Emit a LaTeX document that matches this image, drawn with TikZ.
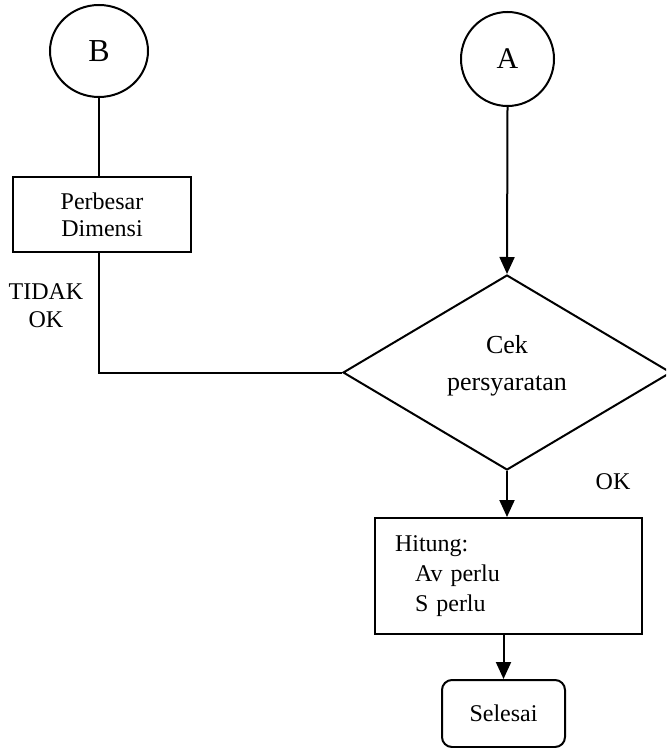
\documentclass[tikz,border=0pt]{standalone}
\usepackage{fontspec}
\setmainfont{Liberation Serif}
\usetikzlibrary{shapes.geometric,arrows.meta,calc}
\begin{document}
\begin{tikzpicture}[x=0.5pt,y=-0.5pt,
  line width=1pt,
  txt/.style={font=\fontsize{12}{13.5}\selectfont, inner sep=0pt},
  connector/.style={ellipse, draw, inner sep=0pt},
  procbox/.style={rectangle, draw, inner sep=0pt, font=\fontsize{12}{13.5}\selectfont},
  decision/.style={diamond, draw, inner sep=0pt},
  endbox/.style={rectangle, rounded corners=5pt, draw, inner sep=0pt, font=\fontsize{12}{14}\selectfont},
  flow/.style={-{Triangle[length=8.5pt,width=7.5pt]}}
]
\clip (0,0) rectangle (666,748);

% connectors
\node[connector, minimum width=49pt, minimum height=46pt, font=\fontsize{16}{18}\selectfont] (B) at (99,51) {B};
\node[connector, minimum width=46.5pt, minimum height=47pt, font=\fontsize{15}{17}\selectfont] (A) at (507.5,59) {A};

% process: enlarge dimensions
\node[procbox, minimum width=89pt, minimum height=37.5pt, align=center] (perbesar) at (102,214.5) {Perbesar\\Dimensi};

% decision
\node[decision, minimum width=164pt, minimum height=97.5pt] (cek) at (507,372.5) {};
\node[txt, align=center, font=\fontsize{13}{18.5}\selectfont] (cektext) at (507,366) {Cek\\persyaratan};

% compute box
\node[procbox, minimum width=133.5pt, minimum height=58pt, inner xsep=10pt, text width=113.5pt, align=left,
      font=\fontsize{12}{15}\selectfont] (hitung) at (508.5,576)
  {Hitung:\\\hspace*{10pt}Av perlu\\\hspace*{10pt}S perlu};

% terminator
\node[endbox, minimum width=61.5pt, minimum height=33.5pt] (selesai) at (503.5,713.5) {Selesai};

% labels
\node[txt, align=center, font=\fontsize{12}{14}\selectfont] (tidak) at (46,306) {TIDAK\\OK};
\node[txt] (ok) at (613,482) {OK};

% connections
\draw (B.south) -- (B.south |- perbesar.north);
\draw (perbesar.south -| B.south) |- (cek.west);
\draw[flow] (A.south) -- (cek.north);
\draw[flow] (cek.south) -- (hitung.north -| cek.south);
\draw[flow] (hitung.south -| selesai.north) -- (selesai.north);
\end{tikzpicture}
\end{document}
